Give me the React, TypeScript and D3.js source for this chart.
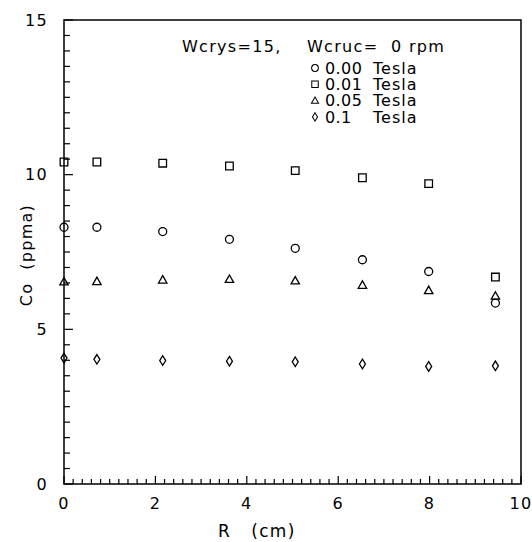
import { useMemo } from "react";
import * as d3 from "d3";

const W = 532;
const H = 542;
const MARGIN = { top: 20, right: 11, bottom: 58, left: 64 };

// radial positions (cm)
const radius = [0, 0.72, 2.16, 3.62, 5.06, 6.53, 7.98, 9.44];

// Co (ppma) per magnetic field
const tesla000 = [8.3, 8.3, 8.16, 7.91, 7.62, 7.25, 6.87, 5.85];
const tesla001 = [10.41, 10.41, 10.37, 10.28, 10.13, 9.9, 9.71, 6.69];
const tesla005 = [6.54, 6.55, 6.6, 6.62, 6.57, 6.43, 6.26, 6.08];
const tesla01 = [4.07, 4.03, 3.99, 3.97, 3.95, 3.88, 3.8, 3.82];

const series = [
  { label: "0.00", shape: "circle", values: tesla000 },
  { label: "0.01", shape: "square", values: tesla001 },
  { label: "0.05", shape: "triangle", values: tesla005 },
  { label: "0.1", shape: "diamond", values: tesla01 },
];

const xTicks = [0, 2, 4, 6, 8, 10];
const yTicks = [0, 5, 10, 15];

const FONT = "'DejaVu Sans', 'Liberation Sans', sans-serif";
const LS = 1.3; // wide letter spacing of the plotter font

const markerPath = (shape: string) => {
  switch (shape) {
    case "circle":
      return "M-4,0a4,4 0 1,0 8,0a4,4 0 1,0 -8,0";
    case "square":
      return "M-3.8,-3.8h7.6v7.6h-7.6z";
    case "triangle":
      return "M0,-4.2L4.2,3.2H-4.2z";
    default:
      return "M0,-4.8L3,0L0,4.8L-3,0z";
  }
};

export default function App() {
  const boundsWidth = W - MARGIN.left - MARGIN.right;
  const boundsHeight = H - MARGIN.top - MARGIN.bottom;

  const xScale = useMemo(() => d3.scaleLinear().domain([0, 10]).range([0, boundsWidth]), [boundsWidth]);
  const yScale = useMemo(() => d3.scaleLinear().domain([0, 15]).range([boundsHeight, 0]), [boundsHeight]);

  const xMinor = d3.range(0, 10.001, 0.2);
  const yMinor = d3.range(0, 15.001, 0.5);

  return (
    <svg
      width={W}
      height={H}
      style={{ position: "absolute", left: 0, top: 0, background: "white" }}
      fontFamily={FONT}
      letterSpacing={LS}
    >
      <g transform={`translate(${MARGIN.left},${MARGIN.top})`}>
        <rect x={0} y={0} width={boundsWidth} height={boundsHeight} fill="none" stroke="black" strokeWidth={1.5} />

        {/* y ticks */}
        {yMinor.map((v, i) => {
          const major = Math.abs(v % 5) < 1e-6;
          return (
            <line key={`ym${i}`} x1={0} x2={major ? 9 : 6} y1={yScale(v)} y2={yScale(v)} stroke="black" strokeWidth={1.2} />
          );
        })}
        {yTicks.map((v) => (
          <text key={`yl${v}`} x={-16} y={yScale(v)} dy="0.36em" textAnchor="end" fontSize={16}>
            {v}
          </text>
        ))}

        {/* x ticks */}
        {xMinor.map((v, i) => {
          const major = Math.abs((v + 1e-6) % 2) < 1e-4;
          return (
            <line key={`xm${i}`} x1={xScale(v)} x2={xScale(v)} y1={boundsHeight} y2={boundsHeight - (major ? 8 : 5)} stroke="black" strokeWidth={1.2} />
          );
        })}
        {xTicks.map((v) => (
          <text key={`xl${v}`} x={xScale(v)} y={boundsHeight + 25} textAnchor="middle" fontSize={16}>
            {v}
          </text>
        ))}

        {/* data */}
        {series.map((s) =>
          s.values.map((v, i) => (
            <path
              key={`${s.label}-${i}`}
              d={markerPath(s.shape)}
              transform={`translate(${xScale(radius[i])},${yScale(v)})`}
              fill="none"
              stroke="black"
              strokeWidth={1.3}
            />
          ))
        )}

        {/* legend */}
        <text x={118} y={32} fontSize={16}>
          Wcrys=15,
        </text>
        <text x={243} y={32} fontSize={16} xmlSpace="preserve">
          Wcruc=  0 rpm
        </text>
        {series.map((s, i) => (
          <g key={`lg${s.label}`} transform={`translate(251,${48 + i * 16.3})`}>
            <path d={markerPath(s.shape)} transform="scale(0.85)" fill="none" stroke="black" strokeWidth={1.2} />
            <text x={10} y={0} dy="0.36em" fontSize={16} letterSpacing={0.4}>
              {s.label}
            </text>
            <text x={58} y={0} dy="0.36em" fontSize={16} letterSpacing={1}>
              Tesla
            </text>
          </g>
        ))}
      </g>

      {/* axis titles */}
      <text x={218} y={537} fontSize={17} xmlSpace="preserve">
        R   (cm)
      </text>
      <text transform="translate(32,255) rotate(-90)" textAnchor="middle" fontSize={16} xmlSpace="preserve">
        Co  (ppma)
      </text>
    </svg>
  );
}
